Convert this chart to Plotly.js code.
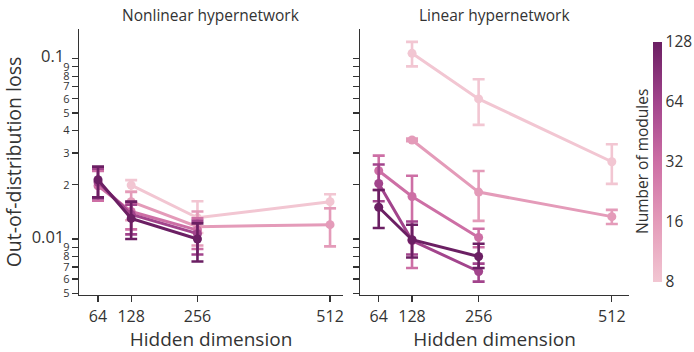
<!DOCTYPE html>
<html>
<head>
<meta charset="utf-8">
<script src="https://cdn.plot.ly/plotly-3.0.1.min.js"></script>
<style>html,body{margin:0;padding:0;background:#fff;}#chart{width:694px;height:352px;}</style>
</head>
<body>
<div id="chart"></div>
<script>
// ---- data ----
const modules = [8, 16, 32, 64, 128];
const hiddenShort = [128, 256, 512];      // used by 8 and 16 modules
const hiddenLong = [64, 128, 256];        // used by 32, 64, 128 modules

// Nonlinear hypernetwork: mean, upper, lower per module count
const nonlinMean = {
  8:   [0.0199, 0.0131, 0.0161],
  16:  [0.0161, 0.0117, 0.0120],
  32:  [0.0197, 0.0142, 0.0112],
  64:  [0.0207, 0.0137, 0.0107],
  128: [0.0213, 0.0130, 0.0100]
};
const nonlinUpper = {
  8:   [0.0212, 0.0162, 0.0177],
  16:  [0.0182, 0.0142, 0.0148],
  32:  [0.0238, 0.0160, 0.0130],
  64:  [0.0245, 0.0155, 0.0126],
  128: [0.0252, 0.0161, 0.0122]
};
const nonlinLower = {
  8:   [0.0184, 0.0108, 0.0148],
  16:  [0.0127, 0.0092, 0.0091],
  32:  [0.0163, 0.0113, 0.0088],
  64:  [0.0168, 0.0106, 0.0082],
  128: [0.0170, 0.0100, 0.0075]
};

// Linear hypernetwork
const linMean = {
  8:   [0.1070, 0.0598, 0.0268],
  16:  [0.0354, 0.0182, 0.0133],
  32:  [0.0239, 0.0172, 0.0102],
  64:  [0.0203, 0.0098, 0.0066],
  128: [0.0150, 0.0099, 0.0080]
};
const linUpper = {
  8:   [0.1238, 0.0768, 0.0335],
  16:  [0.0360, 0.0238, 0.0145],
  32:  [0.0290, 0.0224, 0.0114],
  64:  [0.0259, 0.0125, 0.0073],
  128: [0.0187, 0.0120, 0.0094]
};
const linLower = {
  8:   [0.0906, 0.0429, 0.0202],
  16:  [0.0348, 0.0126, 0.0121],
  32:  [0.0187, 0.0069, 0.0090],
  64:  [0.0162, 0.0082, 0.0058],
  128: [0.0115, 0.0079, 0.0069]
};

const yTickVals = [0.005,0.006,0.007,0.008,0.009,0.01,0.02,0.03,0.04,0.05,0.06,0.07,0.08,0.09,0.1];
const yTickLabels = ['5','6','7','8','9','0.01','2','3','4','5','6','7','8','9','0.1'];
const xTickVals = [64, 128, 256, 512];
const cbarTickVals = [8, 16, 32, 64, 128];

// ---- style ----
const colorOf = {8:'#f2c6d2', 16:'#e49bb9', 32:'#cd6fa5', 64:'#a2448c', 128:'#6b1f63'};
const cscale = [[0,'#f2c6d2'],[0.25,'#e49bb9'],[0.5,'#cd6fa5'],[0.75,'#a2448c'],[1,'#6b1f63']];
const FONT = 'Open Sans, Noto Sans, DejaVu Sans, sans-serif';
const TXT = '#333333';

function mkTrace(m, mean, up, lo, xa, ya, showscale){
  const xs = (m <= 16) ? hiddenShort : hiddenLong;
  const ys = mean[m];
  return {
    type:'scatter', mode:'lines+markers', x: xs, y: ys,
    xaxis: xa, yaxis: ya, showlegend:false, hoverinfo:'skip',
    line:{color: colorOf[m], width:3},
    marker:{size:9, color: ys.map(()=>Math.log2(m)), colorscale: cscale, cmin:3, cmax:7,
      showscale: showscale,
      colorbar: showscale ? {
        x: 653/694, xanchor:'left', xref:'paper', y: 1-162/352, yanchor:'middle',
        len: 240/352, lenmode:'fraction', thickness:9, outlinewidth:0,
        tickvals: cbarTickVals.map(v=>Math.log2(v)), ticktext: cbarTickVals.map(String),
        ticks:'', tickfont:{size:15.5, color:TXT, family:FONT}, ypad:0, xpad:0
      } : undefined},
    error_y:{type:'data', symmetric:false,
      array: ys.map((v,i)=>up[m][i]-v), arrayminus: ys.map((v,i)=>v-lo[m][i]),
      color: colorOf[m], thickness:2.6, width:6}
  };
}

const traces = [];
modules.forEach((m,i)=>traces.push(mkTrace(m, nonlinMean, nonlinUpper, nonlinLower, 'x', 'y', false)));
modules.forEach((m,i)=>traces.push(mkTrace(m, linMean, linUpper, linLower, 'x2', 'y2', i===0)));

const tickText = yTickLabels.map(t => (t.indexOf('.')>=0)
  ? '<span style="font-size:16.5px">'+t+'</span><span style="font-size:10px">&#160;&#160;</span>' : t);

const yBase = {
  type:'log', range:[Math.log10(0.00489), Math.log10(0.146)],
  domain:[1-295/352, 1-29/352],
  tickmode:'array', tickvals: yTickVals, ticktext: tickText,
  ticks:'outside', ticklen:6, tickwidth:1.2, tickcolor:TXT,
  showline:true, linecolor:TXT, linewidth:1.3, showgrid:false, zeroline:false,
  tickfont:{size:11, color:TXT, family:FONT}
};
const xBase = {
  tickmode:'array', tickvals:xTickVals, ticks:'outside', ticklen:6, tickwidth:1.2, tickcolor:TXT,
  showline:true, linecolor:TXT, linewidth:1.3, showgrid:false, zeroline:false,
  tickfont:{size:16, color:TXT, family:FONT},
  title:{text:'Hidden dimension', font:{size:19, color:TXT, family:FONT}, standoff:3}
};

const layout = {
  width:694, height:352, margin:{l:0,r:0,t:0,b:0},
  paper_bgcolor:'#fff', plot_bgcolor:'#fff',
  font:{family:FONT, color:TXT},
  xaxis: Object.assign({}, xBase, {domain:[79/694, 343/694], range:[27.3, 537], anchor:'y'}),
  xaxis2: Object.assign({}, xBase, {domain:[360/694, 629/694], range:[28, 545], anchor:'y2'}),
  yaxis: Object.assign({}, yBase, {anchor:'x',
    title:{text:'Out-of-distribution loss', font:{size:19.5, color:TXT, family:FONT}, standoff:6}}),
  yaxis2: Object.assign({}, yBase, {anchor:'x2', showticklabels:false}),
  annotations:[
    {text:'Nonlinear hypernetwork', xref:'paper', yref:'paper', x:(79+343)/2/694, y:1-15/352,
     showarrow:false, font:{size:15.5, color:TXT, family:FONT}, xanchor:'center', yanchor:'middle'},
    {text:'Linear hypernetwork', xref:'paper', yref:'paper', x:(360+629)/2/694, y:1-15/352,
     showarrow:false, font:{size:15.5, color:TXT, family:FONT}, xanchor:'center', yanchor:'middle'},
    {text:'Number of modules', xref:'paper', yref:'paper', x:642/694, y:1-162/352, textangle:-90,
     showarrow:false, font:{size:15.5, color:TXT, family:FONT}, xanchor:'center', yanchor:'middle'}
  ]
};

Plotly.newPlot('chart', traces, layout, {displayModeBar:false, staticPlot:true});
</script>
</body>
</html>
